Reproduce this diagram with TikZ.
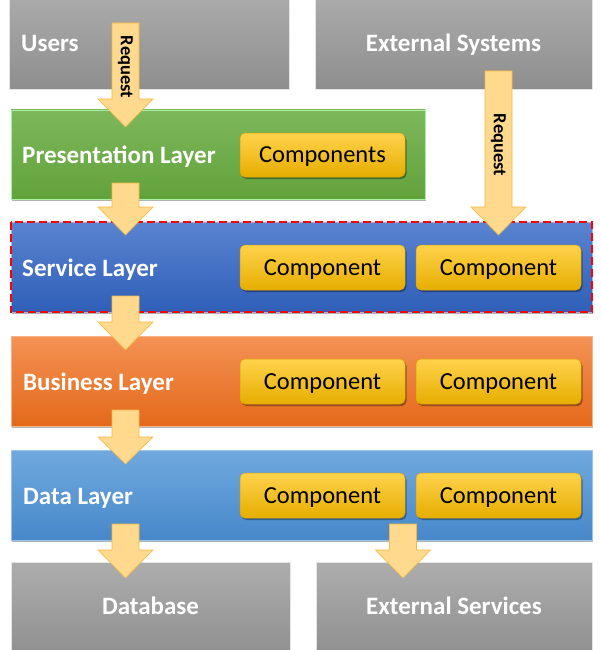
\documentclass[tikz,border=0pt]{standalone}
\usepackage{fontspec}
\setmainfont{Carlito}
\usetikzlibrary{shadows}
\definecolor{grayT}{HTML}{ADADAD}
\definecolor{grayB}{HTML}{8E8E8E}
\definecolor{greenT}{HTML}{7DB75B}
\definecolor{greenB}{HTML}{62A23B}
\definecolor{servT}{HTML}{5A84D0}
\definecolor{servB}{HTML}{2F5FB8}
\definecolor{busT}{HTML}{F49255}
\definecolor{busB}{HTML}{E4691A}
\definecolor{dataT}{HTML}{70A9DE}
\definecolor{dataB}{HTML}{4788CA}
\definecolor{compT}{HTML}{FFD24D}
\definecolor{compM}{HTML}{FFC300}
\definecolor{compB}{HTML}{E6AE00}
\definecolor{compD}{HTML}{D9A200}
\definecolor{arrF}{HTML}{FFD98E}
\definecolor{arrD}{HTML}{F4B942}
\tikzset{
  graybox/.style={rectangle, draw=white!80!gray, line width=0.6pt, top color=grayT, bottom color=grayB, inner sep=0pt},
  layer/.style={rectangle, inner sep=0pt, minimum width=581pt, minimum height=90pt, line width=0.6pt,
    drop shadow={shadow xshift=1pt, shadow yshift=-1.5pt, opacity=0.3, fill=black}},
  comp/.style={rectangle, rounded corners=5pt, draw=compD, line width=0.5pt, top color=compT, middle color=compM, bottom color=compB,
    minimum width=165pt, minimum height=45pt, inner sep=0pt, font=\fontsize{24.5}{26}\selectfont,
    text height=15.8pt, text depth=0pt,
    drop shadow={shadow xshift=1.5pt, shadow yshift=-2pt, opacity=0.35, fill=black}},
  ltext/.style={anchor=west, text=white, font=\bfseries\fontsize{25}{27}\selectfont, inner sep=0pt,
    text height=16pt, text depth=0pt},
  gtext/.style={text=white, font=\bfseries\fontsize{25}{27}\selectfont, inner sep=0pt,
    text height=16pt, text depth=0pt},
  blockarr/.style={fill=arrF, draw=arrD, line width=0.6pt, line join=miter},
  reqtext/.style={rotate=-90, font=\bfseries\fontsize{18.5}{20}\selectfont, inner sep=0pt}
}
% #1 x centre, #2 top of shaft, #3 base of head, #4 tip
\newcommand{\blockarrowdraw}[4]{%
  \draw[blockarr] (#1-13.5,#2) -- (#1+13.5,#2) -- (#1+13.5,#3) -- (#1+27.5,#3) -- (#1,#4) -- (#1-27.5,#3) -- (#1-13.5,#3) -- cycle;}
\begin{document}
\begin{tikzpicture}[x=1pt,y=-1pt]
\clip (0,0) rectangle (600,650);
\fill[white] (0,0) rectangle (600,650);
% gray boxes
\node[graybox, minimum width=280pt, minimum height=99pt] (users) at (149,39.5) {};
\node[gtext, anchor=west] (userst) at (21,44) {Users};
\node[graybox, minimum width=277pt, minimum height=99pt] (extsys) at (453.5,39.5) {};
\node[gtext] (extsyst) at (453.5,44) {External Systems};
\node[graybox, minimum width=279pt, minimum height=98pt] (db) at (150.5,611) {};
\node[gtext] (dbt) at (150.5,606) {Database};
\node[graybox, minimum width=276pt, minimum height=98pt] (extsrv) at (454,611) {};
\node[gtext] (extsrvt) at (454,606) {External Services};
% layers
\node[layer, minimum width=414pt, minimum height=89pt, top color=greenT, bottom color=greenB, draw=green!30!white!80!greenT] (pres) at (218,154.5) {};
\node[ltext] (prest) at (22,155.5) {Presentation Layer};
\node[layer, top color=servT, bottom color=servB, draw=servT!60!white] (serv) at (301.5,267) {};
\draw[red, dash pattern=on 8pt off 4pt, line width=1.8pt] (serv.north west) rectangle (serv.south east);
\node[ltext] (servt) at (22,268) {Service Layer};
\node[layer, top color=busT, bottom color=busB, draw=busT!70!white] (bus) at (301.5,381) {};
\node[ltext] (bust) at (23,382) {Business Layer};
\node[layer, top color=dataT, bottom color=dataB, draw=dataT!70!white] (data) at (301.5,495) {};
\node[ltext] (datat) at (23,496) {Data Layer};
% components
\node[comp, minimum height=44pt] (pc) at (322.5,155) {Components};
\node[comp] (sc1) at (322.5,267.5) {Component};
\node[comp] (sc2) at (498.5,267.5) {Component};
\node[comp] (bc1) at (322.5,381.5) {Component};
\node[comp] (bc2) at (498.5,381.5) {Component};
\node[comp] (dc1) at (322.5,495.5) {Component};
\node[comp] (dc2) at (498.5,495.5) {Component};
% arrows
\blockarrowdraw{125.5}{23}{99}{127}
\node[reqtext] (req1) at (125.5,67) {Request};
\blockarrowdraw{125.5}{183}{207}{235}
\blockarrowdraw{498.5}{71}{207}{235}
\node[reqtext] (req2) at (498.5,145) {Request};
\blockarrowdraw{125.5}{296}{322}{350}
\blockarrowdraw{125.5}{410}{437}{464}
\blockarrowdraw{125.5}{524}{550}{578}
\blockarrowdraw{403}{524}{550}{578}
\end{tikzpicture}
\end{document}
